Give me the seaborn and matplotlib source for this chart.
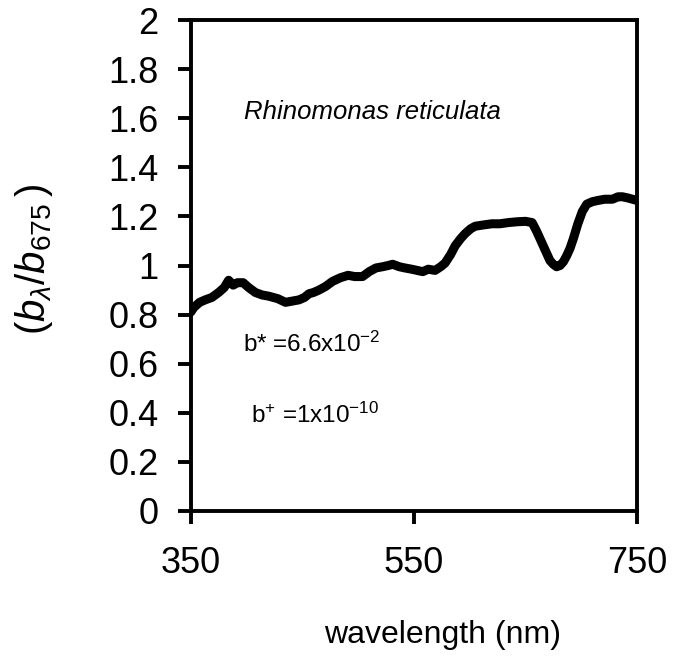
import matplotlib
matplotlib.use("Agg")
import matplotlib.pyplot as plt
import seaborn as sns
import pandas as pd

sns.set_theme(style="white")
plt.rcParams['font.family'] = ['Liberation Sans', 'DejaVu Sans']
plt.rcParams['mathtext.fontset'] = 'custom'
plt.rcParams['mathtext.rm'] = 'Liberation Sans'
plt.rcParams['mathtext.it'] = 'Liberation Sans:italic'
plt.rcParams['mathtext.default'] = 'regular'

wavelength = [350, 353, 358, 363, 369, 375, 380, 384, 388, 392, 397, 402, 408, 414,
              420, 428, 435, 441, 447, 452, 456, 460, 465, 471, 477, 484, 491, 497,
              504, 510, 516, 522, 527, 531, 537, 542, 548, 553, 558, 563, 569, 574,
              578, 583, 587, 592, 596, 601, 605, 612, 620, 627, 635, 642, 650, 656,
              660, 665, 669, 672, 675, 678, 681, 684, 687, 690, 693, 697, 701, 705,
              710, 715, 721, 728, 733, 737, 742, 746, 750]
ratio = [0.81, 0.83, 0.85, 0.86, 0.87, 0.89, 0.91, 0.94, 0.92, 0.93, 0.93, 0.91, 0.89, 0.88,
         0.875, 0.865, 0.85, 0.855, 0.86, 0.87, 0.885, 0.89, 0.90, 0.915, 0.935, 0.95, 0.96, 0.955,
         0.955, 0.975, 0.99, 0.995, 1.00, 1.005, 0.995, 0.99, 0.985, 0.98, 0.975, 0.985, 0.98, 0.995,
         1.01, 1.045, 1.08, 1.11, 1.13, 1.15, 1.16, 1.165, 1.17, 1.17, 1.175, 1.178, 1.18, 1.175,
         1.14, 1.09, 1.05, 1.02, 1.005, 0.995, 1.00, 1.015, 1.04, 1.07, 1.11, 1.17, 1.22, 1.25,
         1.26, 1.265, 1.27, 1.27, 1.28, 1.28, 1.275, 1.27, 1.265]

x_ticks = [350, 550, 750]
y_ticks = [0, 0.2, 0.4, 0.6, 0.8, 1, 1.2, 1.4, 1.6, 1.8, 2]
y_tick_labels = ['0', '0.2', '0.4', '0.6', '0.8', '1', '1.2', '1.4', '1.6', '1.8', '2']

species = 'Rhinomonas reticulata'
b_star = 'b* =6.6x10$^{-2}$'
b_plus = 'b$^{+}$ =1x10$^{-10}$'

df = pd.DataFrame({'wavelength': wavelength, 'ratio': ratio})

fig = plt.figure(figsize=(6.85, 6.59), dpi=100)
ax = fig.add_axes([0.2784, 0.2246, 0.6515, 0.745])
sns.lineplot(data=df, x='wavelength', y='ratio', color='black', linewidth=6.5, ax=ax)

ax.set_xlim(350, 750)
ax.set_ylim(0, 2)
ax.set_xticks(x_ticks)
ax.set_xticklabels([str(v) for v in x_ticks])
ax.set_yticks(y_ticks)
ax.set_yticklabels(y_tick_labels)

for s in ax.spines.values():
    s.set_visible(True)
    s.set_color('black')
    s.set_linewidth(2.8)

ax.tick_params(axis='both', which='major', direction='out', length=9.5, width=2.8,
               color='black', labelsize=26, labelcolor='black')
ax.tick_params(axis='y', pad=13.5, left=True)
ax.tick_params(axis='x', pad=16, bottom=True)
ax.grid(False)

ax.set_xlabel('wavelength (nm)', fontsize=23, color='black')
ax.xaxis.set_label_coords(0.564, -0.222)
ax.set_ylabel(r'$(\mathit{b}_{\mathit{\lambda}}/\mathit{b}_{\mathit{675}}\,)$', fontsize=29,
              color='black')
ax.yaxis.set_label_coords(-0.305, 0.513)

ax.text(397.4, 1.596, species, fontsize=18.5, style='italic', ha='left', va='baseline', color='black')
ax.text(396.5, 0.649, b_star, fontsize=17.5, ha='left', va='baseline', color='black')
ax.text(403.7, 0.359, b_plus, fontsize=17.5, ha='left', va='baseline', color='black')

fig.savefig('out.png', dpi=100)
